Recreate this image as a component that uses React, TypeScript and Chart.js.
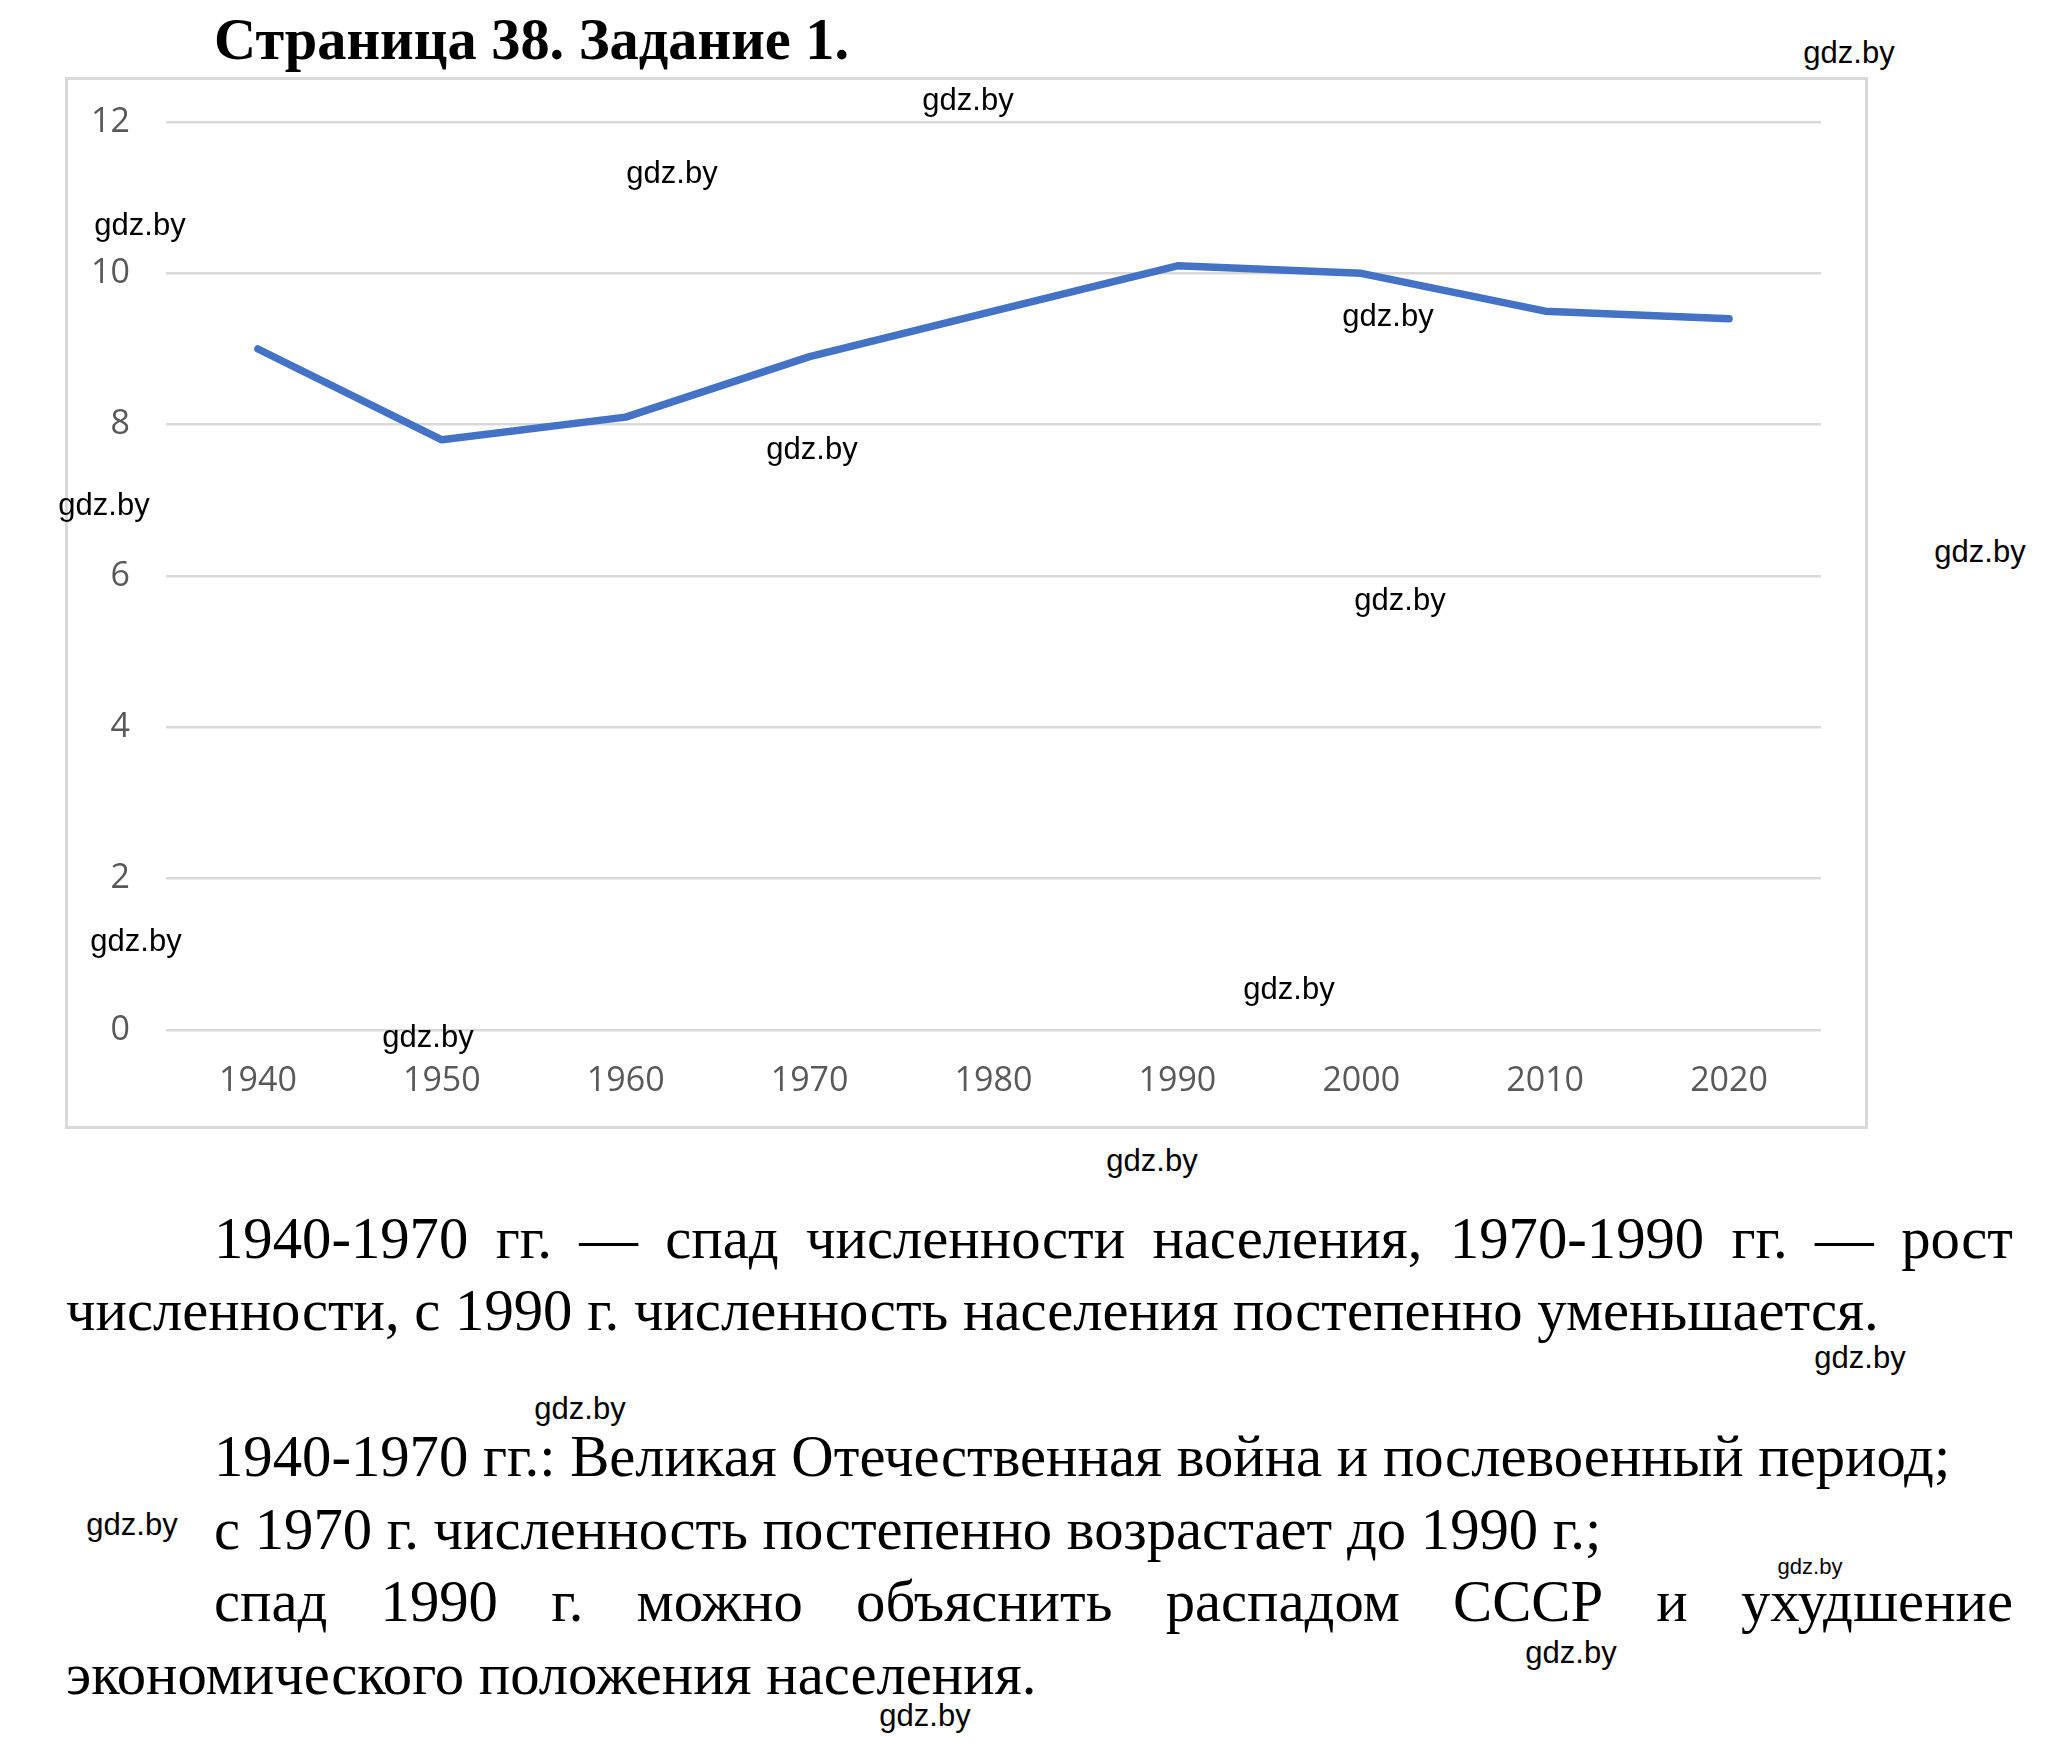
import React, { useEffect, useRef } from "react";
import { Chart, registerables } from "chart.js";

Chart.register(...registerables);

// ---- data ----
const years = ["1940", "1950", "1960", "1970", "1980", "1990", "2000", "2010", "2020"];
const population = [9.0, 7.8, 8.1, 8.9, 9.5, 10.1, 10.0, 9.5, 9.4];
const yTicks = [0, 2, 4, 6, 8, 10, 12];

const titleText = "Страница 38. Задание 1.";
const line1 = "1940-1970 гг. — спад численности населения, 1970-1990 гг. — рост";
const line2 = "численности, с 1990 г. численность населения постепенно уменьшается.";
const line3 = "1940-1970 гг.: Великая Отечественная война и послевоенный период;";
const line4 = "с 1970 г. численность постепенно возрастает до 1990 г.;";
const line5 = "спад 1990 г. можно объяснить распадом СССР и ухудшение";
const line6 = "экономического положения населения.";
const watermarkText = "gdz.by";

// layout: [centerX, centerY, fontSize]
const watermarkSpots: [number, number, number][] = [
  [1849, 55, 31], [968, 102, 31], [672, 175, 31], [140, 227, 31], [1388, 318, 31],
  [812, 451, 31], [104, 507, 31], [1980, 554, 31], [1400, 602, 31], [1289, 991, 31],
  [1152, 1163, 31], [136, 943, 31], [428, 1039, 31], [1860, 1360, 31], [580, 1411, 31],
  [132, 1527, 31], [1810, 1569, 22], [1571, 1655, 31], [925, 1718, 31],
];

const SERIF = '"Liberation Serif", "Times New Roman", serif';
const SANS = '"Liberation Sans", Arial, sans-serif';
const PARA_SIZE = 58.7;

function TextLine(props: { text: string; left: number; baseline: number; width?: number; justify?: boolean }) {
  const top = props.baseline - 0.837 * PARA_SIZE;
  return (
    <div
      style={{
        position: "absolute",
        left: props.left,
        top,
        width: props.width,
        fontFamily: SERIF,
        fontSize: PARA_SIZE,
        lineHeight: 1,
        whiteSpace: "nowrap",
        textAlign: props.justify ? "justify" : "left",
        textAlignLast: props.justify ? "justify" : "left",
        color: "#000",
      } as React.CSSProperties}
    >
      {props.text}
    </div>
  );
}

export default function App() {
  const canvasRef = useRef<HTMLCanvasElement | null>(null);

  useEffect(() => {
    const canvas = canvasRef.current;
    if (!canvas) return;
    const tickFont = { family: '"Open Sans", "Noto Sans", sans-serif', size: 34 };
    const chart = new Chart(canvas, {
      type: "line",
      data: {
        labels: years,
        datasets: [
          {
            data: population,
            borderColor: "#4472C4",
            backgroundColor: "#4472C4",
            borderWidth: 7.5,
            pointRadius: 0,
            tension: 0,
            borderJoinStyle: "round",
            borderCapStyle: "round",
            fill: false,
          },
        ],
      },
      options: {
        animation: false,
        responsive: false,
        maintainAspectRatio: false,
        layout: { padding: { top: 44, right: 45, left: 0, bottom: 0 } },
        plugins: {
          legend: { display: false },
          tooltip: { enabled: false },
          title: { display: false },
        },
        scales: {
          x: {
            offset: true,
            grid: { display: false, drawTicks: false },
            border: { display: false },
            ticks: {
              color: "#595959",
              font: tickFont,
              padding: 31,
              maxRotation: 0,
              autoSkip: false,
            },
            afterFit: (s: any) => {
              s.height = 97;
              s.paddingLeft = 0;
              s.paddingRight = 0;
            },
          },
          y: {
            min: 0,
            max: 12,
            grid: { color: "#d9d9d9", lineWidth: 2.5, drawTicks: false },
            border: { display: false },
            ticks: {
              color: "#595959",
              font: tickFont,
              padding: 36,
            },
            afterBuildTicks: (s: any) => {
              s.ticks = yTicks.map((v) => ({ value: v }));
            },
            afterFit: (s: any) => {
              s.width = 100;
              s.paddingTop = 0;
              s.paddingBottom = 0;
            },
          },
        },
      } as any,
    });
    return () => chart.destroy();
  }, []);

  return (
    <div
      style={{
        position: "absolute",
        left: 0,
        top: 0,
        width: 2061,
        height: 1749,
        background: "#fff",
        overflow: "hidden",
      }}
    >
      <div
        style={{
          position: "absolute",
          left: 214,
          top: 60 - 0.837 * 58.4,
          fontFamily: SERIF,
          fontWeight: "bold",
          fontSize: 58.4,
          lineHeight: 1,
          whiteSpace: "nowrap",
          color: "#000",
        }}
      >
        {titleText}
      </div>

      <div
        style={{
          position: "absolute",
          left: 65,
          top: 77,
          width: 1803,
          height: 1052,
          border: "3px solid #d9d9d9",
          boxSizing: "border-box",
        }}
      />
      <canvas
        ref={canvasRef}
        width={1800}
        height={1049}
        style={{ position: "absolute", left: 66, top: 78, width: 1800, height: 1049 }}
      />

      <TextLine text={line1} left={214} baseline={1259} width={1799} justify />
      <TextLine text={line2} left={66} baseline={1331} />
      <TextLine text={line3} left={214} baseline={1477} />
      <TextLine text={line4} left={214} baseline={1550} />
      <TextLine text={line5} left={214} baseline={1622} width={1799} justify />
      <TextLine text={line6} left={66} baseline={1695} />

      {watermarkSpots.map(([cx, cy, size], i) => (
        <div
          key={i}
          style={{
            position: "absolute",
            left: cx,
            top: cy - 0.595 * size,
            transform: "translateX(-50%)",
            fontFamily: SANS,
            fontSize: size,
            lineHeight: 1,
            whiteSpace: "nowrap",
            color: "#000",
          }}
        >
          {watermarkText}
        </div>
      ))}
    </div>
  );
}
